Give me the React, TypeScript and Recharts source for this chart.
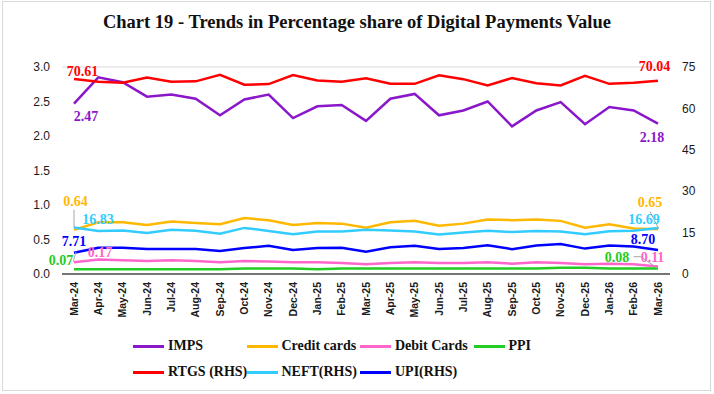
import { LineChart, Line, XAxis, YAxis, CartesianGrid, LabelList } from 'recharts';

const months = [
  'Mar-24', 'Apr-24', 'May-24', 'Jun-24', 'Jul-24', 'Aug-24', 'Sep-24', 'Oct-24', 'Nov-24',
  'Dec-24', 'Jan-25', 'Feb-25', 'Mar-25', 'Apr-25', 'May-25', 'Jun-25', 'Jul-25', 'Aug-25',
  'Sep-25', 'Oct-25', 'Nov-25', 'Dec-25', 'Jan-26', 'Feb-26', 'Mar-26',
];

// left axis (per cent)
const imps = [2.47, 2.85, 2.78, 2.57, 2.6, 2.54, 2.3, 2.53, 2.6, 2.26, 2.43, 2.45, 2.22, 2.54, 2.61, 2.3, 2.37, 2.5, 2.14, 2.37, 2.49, 2.17, 2.42, 2.37, 2.18];
const creditCards = [0.64, 0.75, 0.75, 0.71, 0.76, 0.74, 0.72, 0.81, 0.78, 0.71, 0.74, 0.73, 0.67, 0.75, 0.77, 0.7, 0.73, 0.79, 0.78, 0.79, 0.77, 0.67, 0.72, 0.66, 0.65];
const debitCards = [0.17, 0.21, 0.2, 0.19, 0.2, 0.19, 0.17, 0.19, 0.18, 0.17, 0.17, 0.16, 0.14, 0.16, 0.17, 0.16, 0.16, 0.17, 0.15, 0.17, 0.16, 0.14, 0.15, 0.14, 0.11];
const ppi = [0.07, 0.07, 0.07, 0.07, 0.07, 0.07, 0.07, 0.08, 0.08, 0.08, 0.07, 0.08, 0.08, 0.08, 0.08, 0.08, 0.08, 0.08, 0.08, 0.08, 0.09, 0.09, 0.08, 0.08, 0.08];

// right axis (per cent)
const rtgs = [70.61, 69.7, 69.3, 71.2, 69.7, 69.8, 72.2, 68.6, 68.8, 72.1, 70.1, 69.7, 70.9, 68.9, 68.9, 72.0, 70.6, 68.3, 71.0, 69.1, 68.3, 71.8, 68.9, 69.3, 70.04];
const neft = [16.83, 15.6, 15.8, 14.9, 16.0, 15.7, 14.6, 16.7, 15.6, 14.4, 15.4, 15.4, 16.0, 15.8, 15.4, 14.3, 15.0, 15.7, 15.2, 15.6, 15.4, 14.4, 15.5, 15.7, 16.69];
const upi = [7.71, 9.5, 9.5, 9.1, 9.1, 9.1, 8.3, 9.4, 10.2, 8.7, 9.4, 9.5, 8.1, 9.7, 10.2, 9.1, 9.4, 10.4, 9.0, 10.3, 10.9, 9.2, 10.3, 10.0, 8.7];

const leftTicks = [0, 0.5, 1, 1.5, 2, 2.5, 3];
const rightTicks = [0, 15, 30, 45, 60, 75];

const data = months.map((month, i) => ({
  month,
  imps: imps[i],
  creditCards: creditCards[i],
  debitCards: debitCards[i],
  ppi: ppi[i],
  rtgs: rtgs[i],
  neft: neft[i],
  upi: upi[i],
}));

type Callout = { dx: number; dy: number; leader?: number[] };

const series: {
  key: string;
  name: string;
  color: string;
  axis: 'left' | 'right';
  first: Callout;
  last: Callout;
}[] = [
  { key: 'imps', name: 'IMPS', color: '#8A17C9', axis: 'left', first: { dx: 12, dy: 17 }, last: { dx: -6, dy: 18 } },
  {
    key: 'creditCards', name: 'Credit cards', color: '#FFB800', axis: 'left',
    first: { dx: 1.5, dy: -24, leader: [0, -20, 0, -2] },
    last: { dx: -8, dy: -22, leader: [-8, -17.5, 1, 0] },
  },
  {
    key: 'debitCards', name: 'Debit Cards', color: '#FF66CC', axis: 'left',
    first: { dx: 26, dy: -5 },
    last: { dx: -5.5, dy: -4.5, leader: [-24.5, -9.7, -17.2, -9.7, -0.5, 1.9] },
  },
  {
    key: 'ppi', name: 'PPI', color: '#22CC22', axis: 'left',
    first: { dx: -13, dy: -4, leader: [-0.7, -7.5, 2, -17.5] },
    last: { dx: -41, dy: -6.5 },
  },
  { key: 'rtgs', name: 'RTGS (RHS)', color: '#FF0000', axis: 'right', first: { dx: 8.5, dy: -3.5 }, last: { dx: -3.5, dy: -10 } },
  { key: 'neft', name: 'NEFT(RHS)', color: '#33CCFF', axis: 'right', first: { dx: 24, dy: -4 }, last: { dx: -14, dy: -3.5 } },
  { key: 'upi', name: 'UPI(RHS)', color: '#0000FF', axis: 'right', first: { dx: 0, dy: -7 }, last: { dx: -15, dy: -6 } },
];

const serif = '"Liberation Serif", "DejaVu Serif", serif';
const sans = '"Liberation Sans", Arial, sans-serif';

function makeLabel(color: string, first: Callout, last: Callout) {
  return (props: any) => {
    const { x, y, index, value } = props;
    if (index !== 0 && index !== months.length - 1) return null;
    const c = index === 0 ? first : last;
    let leader = null;
    if (c.leader) {
      const pts = [];
      for (let k = 0; k < c.leader.length; k += 2) pts.push(`${x + c.leader[k]},${y + c.leader[k + 1]}`);
      leader = <polyline points={pts.join(' ')} fill="none" stroke="#A6A6A6" strokeWidth={1} />;
    }
    return (
      <g>
        {leader}
        <text x={x + c.dx} y={y + c.dy} textAnchor="middle" fill={color} fontFamily={serif} fontWeight="bold" fontSize={14}>
          {Number(value).toFixed(2)}
        </text>
      </g>
    );
  };
}

function MonthTick(props: any) {
  const { x, y, payload } = props;
  return (
    <text
      x={x}
      y={y}
      transform={`rotate(-90, ${x}, ${y})`}
      textAnchor="end"
      dy="0.35em"
      fill="#1a1a1a"
      fontFamily={sans}
      fontWeight="bold"
      fontSize={10.5}
    >
      {payload.value}
    </text>
  );
}

function LegendBlock() {
  return (
    <div style={{ position: 'absolute', left: 133, top: 336, width: 480, fontFamily: serif, fontWeight: 'bold', fontSize: 14, color: '#111' }}>
      {series.map((s, i) => (
        <div
          key={s.key}
          style={{
            position: 'absolute',
            left: (i < 4 ? i : i - 4) * 113.5,
            top: i < 4 ? 0 : 26,
            display: 'flex',
            alignItems: 'center',
            height: 20,
            whiteSpace: 'nowrap',
          }}
        >
          <span style={{ display: 'inline-block', width: 31, height: 3, background: s.color, marginRight: 4 }} />
          {s.name}
        </div>
      ))}
    </div>
  );
}

export default function App() {
  return (
    <div style={{ position: 'absolute', left: 0, top: 0, width: 714, height: 394, background: '#fff' }}>
      <div style={{ position: 'absolute', left: 2, top: 1, width: 707, height: 388, border: '1px solid #D9D9D9' }} />
      <div
        style={{
          position: 'absolute', left: 0, top: 12, width: 714, textAlign: 'center',
          fontFamily: serif, fontWeight: 'bold', fontSize: 18.5, color: '#111',
        }}
      >
        Chart 19 - Trends in Percentage share of Digital Payments Value
      </div>
      <div style={{ position: 'absolute', left: 0, top: 0 }}>
        <LineChart width={714} height={394} data={data} margin={{ top: 67, right: 0, bottom: 70, left: 0 }}>
          <CartesianGrid vertical={false} stroke="#D9D9D9" />
          <XAxis
            dataKey="month"
            interval={0}
            height={50}
            padding={{ left: 12, right: 12 }}
            axisLine={{ stroke: '#000', strokeWidth: 1 }}
            tickLine={false}
            tickSize={0}
            tickMargin={8}
            tick={<MonthTick />}
          />
          <YAxis
            yAxisId="left"
            domain={[0, 3]}
            ticks={leftTicks}
            tickFormatter={(v: number) => v.toFixed(1)}
            width={62}
            axisLine={false}
            tickLine={false}
            tickSize={0}
            tickMargin={12}
            tick={{ fill: '#1a1a1a', fontSize: 12, fontFamily: sans }}
          />
          <YAxis
            yAxisId="right"
            orientation="right"
            domain={[0, 75]}
            ticks={rightTicks}
            width={44}
            axisLine={false}
            tickLine={false}
            tickSize={0}
            tickMargin={12}
            tick={{ fill: '#1a1a1a', fontSize: 12, fontFamily: sans, textAnchor: 'start' }}
          />
          {series.map((s) => (
            <Line
              key={s.key}
              yAxisId={s.axis}
              dataKey={s.key}
              name={s.name}
              stroke={s.color}
              strokeWidth={2.5}
              dot={false}
              isAnimationActive={false}
            >
              <LabelList dataKey={s.key} content={makeLabel(s.color, s.first, s.last)} />
            </Line>
          ))}
        </LineChart>
      </div>
      <LegendBlock />
    </div>
  );
}
